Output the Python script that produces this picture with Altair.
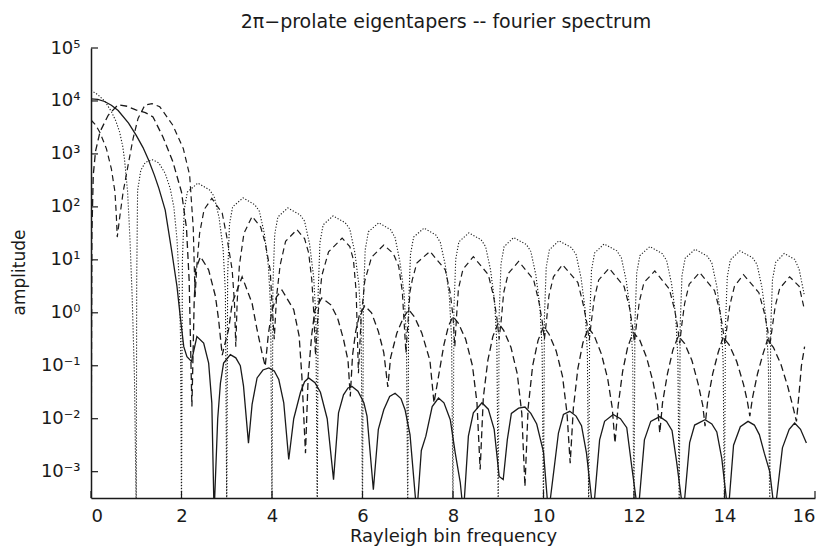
import altair as alt
import pandas as pd

# ---- data: (Rayleigh bin frequency, log10 amplitude) ----
# values below the axis floor (-3.5) mark the spectral nulls that run off the bottom
solid = [
    (0.00, 4.04), (0.15, 4.03), (0.30, 3.99), (0.45, 3.92), (0.60, 3.82), (0.83, 3.58),
    (1.00, 3.35), (1.15, 3.12), (1.27, 2.89), (1.40, 2.60), (1.50, 2.35), (1.64, 1.94),
    (1.79, 1.13), (1.90, 0.50), (1.98, -0.13), (2.05, -0.64), (2.12, -0.83), (2.22, -0.92),
    (2.34, -0.45), (2.49, -0.57), (2.60, -0.95), (2.67, -1.70), (2.72, -3.8), (2.80, -2.00),
    (2.86, -1.33), (2.93, -0.95), (3.08, -0.79), (3.20, -0.85), (3.30, -1.00), (3.37, -1.38),
    (3.48, -2.46), (3.56, -1.73), (3.67, -1.23), (3.80, -1.08), (3.93, -1.04), (4.05, -1.10),
    (4.15, -1.26), (4.26, -1.70), (4.37, -2.77), (4.48, -2.00), (4.63, -1.50), (4.72, -1.30),
    (4.81, -1.23), (4.95, -1.32), (5.07, -1.50), (5.22, -2.00), (5.36, -3.15), (5.47, -1.89),
    (5.58, -1.55), (5.68, -1.42), (5.77, -1.39), (5.90, -1.48), (6.03, -1.70), (6.10, -1.95),
    (6.24, -3.34), (6.35, -2.20), (6.47, -1.83), (6.60, -1.58), (6.72, -1.52), (6.85, -1.62),
    (6.94, -1.83), (7.05, -2.30), (7.20, -3.8), (7.30, -2.60), (7.40, -2.33), (7.54, -1.77),
    (7.68, -1.61), (7.80, -1.70), (7.94, -2.02), (8.05, -2.65), (8.16, -3.20), (8.23, -3.8),
    (8.34, -2.33), (8.45, -1.89), (8.64, -1.70), (8.78, -1.82), (8.91, -2.20), (9.02, -3.09),
    (9.11, -3.15), (9.20, -2.40), (9.29, -1.90), (9.45, -1.80), (9.59, -1.78), (9.72, -1.90),
    (9.85, -2.10), (10.00, -2.63), (10.11, -3.8), (10.24, -2.90), (10.33, -2.27), (10.44, -1.92),
    (10.58, -1.86), (10.72, -1.95), (10.84, -2.13), (10.95, -2.65), (11.10, -3.8), (11.24, -2.40),
    (11.35, -2.05), (11.54, -1.92), (11.70, -2.00), (11.84, -2.17), (11.95, -2.90), (12.09, -3.8),
    (12.23, -2.40), (12.37, -2.05), (12.57, -1.96), (12.72, -2.05), (12.84, -2.22), (12.94, -2.80),
    (13.09, -3.8), (13.23, -2.45), (13.34, -2.12), (13.57, -2.02), (13.72, -2.10), (13.83, -2.25),
    (13.94, -2.75), (14.08, -3.8), (14.20, -2.50), (14.35, -2.15), (14.52, -2.05), (14.66, -2.12),
    (14.77, -2.30), (14.88, -2.65), (15.00, -3.00), (15.11, -3.8), (15.28, -2.55), (15.43, -2.20),
    (15.55, -2.08), (15.68, -2.20), (15.81, -2.46),
]

dashed_lower = [
    (0.00, -3.8), (0.02, 1.50), (0.05, 2.60), (0.10, 3.05), (0.20, 3.42), (0.38, 3.73),
    (0.60, 3.93), (0.80, 3.90), (0.99, 3.83), (1.20, 3.78), (1.37, 3.70), (1.59, 3.32),
    (1.81, 2.85), (2.00, 2.28), (2.11, 1.60), (2.17, 0.60), (2.23, -1.77),
    (2.28, 0.20), (2.31, 0.81), (2.42, 1.06), (2.60, 0.81), (2.75, 0.31), (2.82, -0.13), (2.90, -0.80),
    (2.97, -0.55), (3.04, -0.32), (3.12, 0.18), (3.34, 0.68), (3.56, 0.18), (3.67, -0.32),
    (3.78, -0.76), (3.85, -1.01),
    (3.92, -0.40), (4.00, 0.05), (4.10, 0.30), (4.22, 0.43), (4.48, 0.06), (4.60, -0.44),
    (4.66, -1.20), (4.74, -2.65),
    (4.80, -1.20), (4.88, -0.40), (4.95, 0.06), (5.10, 0.28), (5.30, 0.15), (5.45, -0.10),
    (5.58, -0.50), (5.68, -0.90), (5.73, -1.58),
    (5.78, -0.80), (5.85, -0.35), (5.93, -0.05), (6.05, 0.13), (6.20, 0.00), (6.35, -0.35),
    (6.47, -0.75), (6.56, -1.40),
    (6.62, -0.85), (6.76, -0.38), (6.90, -0.10), (7.02, 0.06), (7.15, -0.08), (7.31, -0.38),
    (7.49, -0.90), (7.58, -1.70),
    (7.70, -1.10), (7.80, -0.60), (7.90, -0.25), (8.00, -0.07), (8.12, -0.20), (8.28, -0.50),
    (8.43, -1.00), (8.53, -1.70), (8.60, -2.96),
    (8.67, -1.60), (8.77, -0.90), (8.88, -0.45), (9.00, -0.19), (9.12, -0.33), (9.28, -0.65),
    (9.42, -1.15), (9.52, -1.90), (9.59, -3.28),
    (9.66, -1.80), (9.76, -1.00), (9.88, -0.52), (10.00, -0.26), (10.12, -0.40), (10.28, -0.72),
    (10.42, -1.20), (10.52, -1.90), (10.59, -2.84),
    (10.66, -1.80), (10.76, -1.05), (10.87, -0.57), (10.99, -0.28), (11.12, -0.43), (11.28, -0.78),
    (11.42, -1.25), (11.52, -1.80), (11.58, -2.46),
    (11.65, -1.75), (11.75, -1.10), (11.86, -0.65), (11.98, -0.37), (12.12, -0.50), (12.28, -0.85),
    (12.42, -1.30), (12.52, -1.75), (12.57, -2.27),
    (12.63, -1.70), (12.74, -1.15), (12.86, -0.70), (12.98, -0.44), (13.12, -0.58), (13.28, -0.90),
    (13.42, -1.35), (13.52, -1.75), (13.57, -2.14),
    (13.63, -1.65), (13.74, -1.15), (13.86, -0.75), (13.97, -0.46), (14.10, -0.60), (14.27, -0.92),
    (14.42, -1.35), (14.50, -1.65), (14.56, -1.95),
    (14.62, -1.60), (14.73, -1.15), (14.85, -0.78), (14.95, -0.51), (15.08, -0.65), (15.25, -0.98),
    (15.40, -1.40), (15.52, -1.80), (15.59, -2.05),
    (15.65, -1.50), (15.70, -1.00), (15.77, -0.64),
]

dashed_upper = [
    (0.00, 3.64), (0.10, 3.55), (0.20, 3.40), (0.34, 3.10), (0.45, 2.72), (0.53, 2.28),
    (0.56, 1.84), (0.58, 1.43), (0.64, 1.84), (0.71, 2.28), (0.82, 2.79), (0.93, 3.29),
    (1.04, 3.67), (1.19, 3.92), (1.35, 3.95), (1.52, 3.89), (1.81, 3.54), (2.04, 3.10),
    (2.18, 2.60), (2.26, 1.60), (2.30, 0.30),
    (2.34, 0.90), (2.40, 1.50), (2.50, 1.95), (2.67, 2.16), (2.90, 1.88), (3.00, 1.44),
    (3.12, 0.81), (3.17, 0.20), (3.20, -0.64),
    (3.23, 0.20), (3.28, 0.90), (3.38, 1.50), (3.56, 1.82), (3.75, 1.62), (3.85, 1.32),
    (3.96, 0.81), (4.00, 0.18), (4.05, -0.50),
    (4.10, 0.30), (4.18, 0.90), (4.30, 1.35), (4.55, 1.57), (4.72, 1.40), (4.81, 1.13),
    (4.88, 0.62), (4.93, -0.10), (4.96, -0.80),
    (5.02, 0.00), (5.10, 0.70), (5.25, 1.15), (5.55, 1.41), (5.72, 1.25), (5.80, 1.00),
    (5.86, 0.40), (5.91, -1.14),
    (5.97, -0.10), (6.05, 0.60), (6.20, 1.05), (6.47, 1.28), (6.68, 1.12), (6.80, 0.88),
    (6.88, 0.40), (6.96, -0.76),
    (7.05, 0.40), (7.10, 0.62), (7.20, 0.94), (7.49, 1.16), (7.83, 0.81), (7.94, 0.37),
    (8.00, -0.07), (8.04, -0.64),
    (8.08, -0.05), (8.12, 0.45), (8.22, 0.82), (8.45, 1.06), (8.78, 0.72), (8.90, 0.30),
    (8.97, -0.10), (9.02, -0.50),
    (9.07, -0.10), (9.12, 0.38), (9.22, 0.74), (9.45, 0.97), (9.78, 0.63), (9.90, 0.20),
    (9.97, -0.15), (10.02, -0.50),
    (10.07, -0.12), (10.12, 0.32), (10.22, 0.68), (10.42, 0.91), (10.76, 0.57), (10.88, 0.15),
    (10.96, -0.20), (11.01, -0.52),
    (11.06, -0.15), (11.12, 0.26), (11.22, 0.62), (11.45, 0.84), (11.78, 0.50), (11.90, 0.10),
    (11.96, -0.22), (12.01, -0.55),
    (12.06, -0.18), (12.12, 0.22), (12.22, 0.57), (12.46, 0.79), (12.78, 0.45), (12.90, 0.05),
    (12.96, -0.25), (13.01, -0.58),
    (13.06, -0.20), (13.12, 0.18), (13.22, 0.54), (13.45, 0.76), (13.78, 0.42), (13.90, 0.02),
    (13.96, -0.28), (14.01, -0.60),
    (14.06, -0.22), (14.12, 0.15), (14.22, 0.50), (14.42, 0.72), (14.76, 0.38), (14.88, 0.00),
    (14.95, -0.30), (15.00, -0.62),
    (15.06, -0.25), (15.12, 0.12), (15.22, 0.46), (15.44, 0.68), (15.65, 0.50), (15.75, 0.12),
]

dotted = [
    (0.00, 4.20), (0.15, 4.12), (0.31, 3.99), (0.45, 3.80), (0.55, 3.62), (0.63, 3.42),
    (0.70, 3.15), (0.74, 2.90), (0.81, 2.28), (0.86, 1.40), (0.91, 0.30), (0.96, -1.20), (1.00, -3.8),
    (1.01, 0.60), (1.03, 2.31), (1.10, 2.69), (1.20, 2.84), (1.36, 2.89), (1.50, 2.83), (1.64, 2.63),
    (1.75, 2.35), (1.83, 2.00), (1.90, 1.40), (1.94, 0.75), (1.98, -0.50), (2.00, -3.8),
    (2.02, 1.00), (2.06, 1.95), (2.13, 2.28), (2.36, 2.45), (2.62, 2.32), (2.72, 2.20), (2.83, 1.80),
    (2.92, 1.20), (2.97, 0.40), (3.00, -3.8),
    (3.02, 0.72), (3.06, 1.67), (3.13, 2.00), (3.36, 2.17), (3.62, 2.04), (3.72, 1.92), (3.83, 1.50),
    (3.92, 0.88), (3.97, 0.10), (4.00, -3.8),
    (4.02, 0.53), (4.06, 1.48), (4.13, 1.81), (4.35, 1.98), (4.62, 1.85), (4.72, 1.73), (4.83, 1.30),
    (4.92, 0.68), (4.97, -0.10), (5.00, -3.8),
    (5.02, 0.38), (5.06, 1.33), (5.13, 1.66), (5.35, 1.83), (5.62, 1.70), (5.72, 1.58), (5.83, 1.14),
    (5.92, 0.53), (5.97, -0.25), (6.00, -3.8),
    (6.02, 0.25), (6.06, 1.19), (6.13, 1.53), (6.36, 1.70), (6.62, 1.57), (6.72, 1.42), (6.83, 0.95),
    (6.92, 0.35), (6.97, -0.45), (7.00, -3.8),
    (7.02, 0.15), (7.06, 1.10), (7.13, 1.43), (7.36, 1.60), (7.62, 1.47), (7.72, 1.33), (7.83, 0.90),
    (7.92, 0.30), (7.97, -0.50), (8.00, -3.8),
    (8.02, 0.06), (8.06, 1.01), (8.13, 1.34), (8.35, 1.51), (8.62, 1.38), (8.72, 1.25), (8.83, 0.81),
    (8.92, 0.21), (8.97, -0.60), (9.00, -3.8),
    (9.02, -0.03), (9.06, 0.92), (9.13, 1.25), (9.34, 1.42), (9.62, 1.29), (9.72, 1.16), (9.83, 0.72),
    (9.92, 0.12), (9.97, -0.70), (10.00, -3.8),
    (10.02, -0.09), (10.06, 0.86), (10.13, 1.19), (10.34, 1.36), (10.62, 1.23), (10.72, 1.10),
    (10.83, 0.66), (10.92, 0.06), (10.97, -0.75), (11.00, -3.8),
    (11.02, -0.15), (11.06, 0.80), (11.13, 1.13), (11.34, 1.30), (11.62, 1.17), (11.72, 1.04),
    (11.83, 0.60), (11.92, 0.00), (11.97, -0.80), (12.00, -3.8),
    (12.02, -0.20), (12.06, 0.75), (12.13, 1.08), (12.35, 1.25), (12.62, 1.12), (12.72, 0.99),
    (12.83, 0.55), (12.92, -0.05), (12.97, -0.85), (13.00, -3.8),
    (13.02, -0.25), (13.06, 0.70), (13.13, 1.03), (13.35, 1.20), (13.62, 1.07), (13.72, 0.94),
    (13.83, 0.50), (13.92, -0.10), (13.97, -0.90), (14.00, -3.8),
    (14.02, -0.28), (14.06, 0.67), (14.13, 1.00), (14.34, 1.17), (14.62, 1.04), (14.72, 0.91),
    (14.83, 0.47), (14.92, -0.13), (14.97, -0.95), (15.00, -3.8),
    (15.02, -0.33), (15.06, 0.62), (15.13, 0.95), (15.32, 1.12), (15.55, 1.01), (15.65, 0.82),
    (15.76, 0.35),
]

y_tick_values = [1e-3, 1e-2, 1e-1, 1e0, 1e1, 1e2, 1e3, 1e4, 1e5]
y_tick_labels = ["10⁻³", "10⁻²", "10⁻¹", "10⁰", "10¹", "10²", "10³", "10⁴", "10⁵"]
x_tick_values = [0, 2, 4, 6, 8, 10, 12, 14, 16]

TITLE = "2π−prolate eigentapers -- fourier spectrum"
FONT = "DejaVu Sans"
INK = "#1a1a1a"
W, H = 724, 450

y_scale = alt.Scale(type="log", domain=[10 ** -3.497, 1e5], nice=False)
x_scale = alt.Scale(domain=[0, 16], nice=False)

label_expr = ("[" + ",".join("'%s'" % s for s in y_tick_labels) +
              "][round(log(datum.value)/LN10)+3]")

x_axis = alt.Axis(values=x_tick_values, title="Rayleigh bin frequency", labelPadding=9,
                  titleY=43, titleBaseline="alphabetic", format="d", titleFontSize=18)
y_axis = alt.Axis(values=y_tick_values, labelExpr=label_expr, title="amplitude",
                  labelPadding=11, titleX=-67, titleY=H / 2 - 1, titleBaseline="alphabetic",
                  titleAngle=-90)

X = alt.X("x:Q", scale=x_scale, axis=x_axis)
Y = alt.Y("amp:Q", scale=y_scale, axis=y_axis)


def frame(pairs):
    return pd.DataFrame({
        "x": [p[0] for p in pairs],
        "amp": [10 ** p[1] for p in pairs],
        "i": list(range(len(pairs))),
    })


styles = [
    (dotted, dict(strokeDash=[1.2, 1.8], strokeWidth=1.1)),
    (dashed_upper, dict(strokeDash=[6, 4], strokeWidth=1.2)),
    (dashed_lower, dict(strokeDash=[7, 4], strokeWidth=1.3)),
    (solid, dict(strokeWidth=1.3)),
]

layers = []
for pairs, st in styles:
    layers.append(
        alt.Chart(frame(pairs)).mark_line(color=INK, clip=True, **st).encode(
            x=X, y=Y, order="i:Q")
    )

# inward tick marks along both axes
ytick_df = pd.DataFrame({"amp": y_tick_values})
layers.append(alt.Chart(ytick_df).mark_rule(color=INK, strokeWidth=1.2).encode(
    y=Y, x=alt.value(0), x2=alt.value(7)))
xtick_df = pd.DataFrame({"x": x_tick_values})
layers.append(alt.Chart(xtick_df).mark_rule(color=INK, strokeWidth=1.2).encode(
    x=X, y=alt.value(H), y2=alt.value(H - 7)))

chart = alt.layer(*layers).properties(
    width=W, height=H,
    background="white",
    autosize=alt.AutoSizeParams(type="none"),
    padding={"left": 91, "top": 48, "right": 10, "bottom": 48},
    title=alt.TitleParams(TITLE, fontSize=19, font=FONT, fontWeight="normal", color=INK,
                          anchor="middle", frame="group", offset=-8, baseline="alphabetic",
                          dx=-7),
).configure_view(stroke=None).configure_axis(
    grid=False, ticks=False, tickSize=0, domainColor=INK, domainWidth=1.5,
    labelFont=FONT, labelFontSize=18, labelColor=INK,
    titleFont=FONT, titleFontSize=17, titleFontWeight="normal", titleColor=INK,
)

chart.save("out.html", embed_options={"renderer": "svg", "actions": False})
